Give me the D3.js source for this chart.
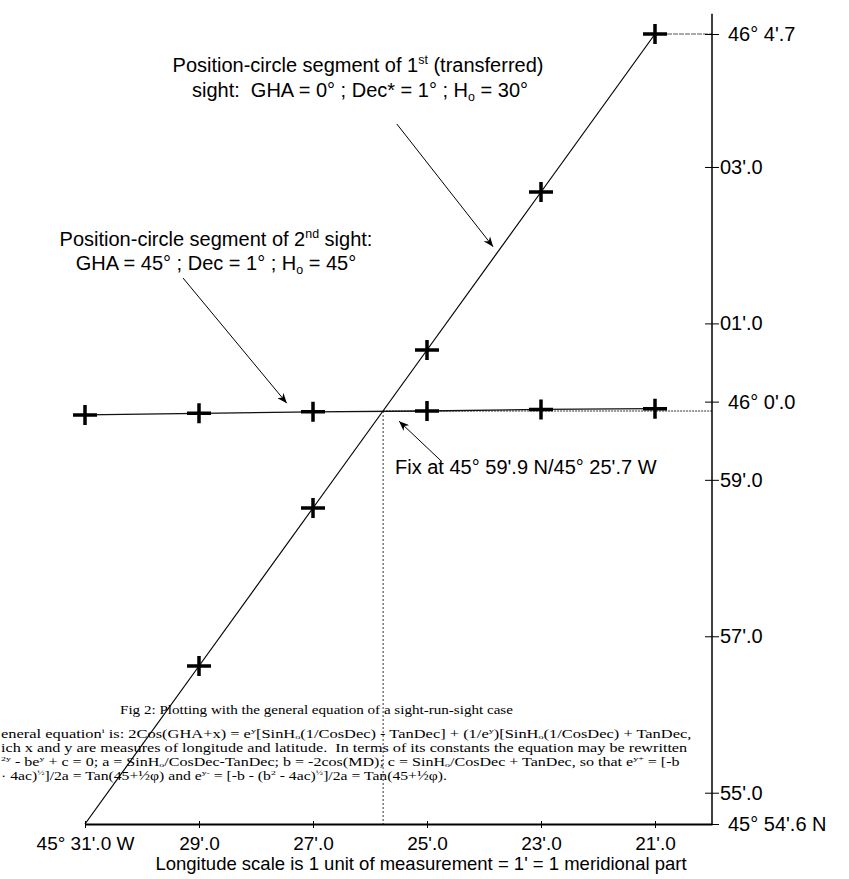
<!DOCTYPE html>
<html>
<head>
<meta charset="utf-8">
<script src="https://cdn.jsdelivr.net/npm/d3@7"></script>
<style>
  body { margin: 0; background: #fff; }
  svg text { font-family: Arial, "Liberation Sans", sans-serif; fill: #000; }
</style>
</head>
<body>
<div id="wrapper"></div>
<script>
// longitude (minutes past 45 deg W) and latitude (minutes past 45 deg N)
const lonTicks = [31, 29, 27, 25, 23, 21];
const lonLabels = ["45\u00B0 31'.0 W", "29'.0", "27'.0", "25'.0", "23'.0", "21'.0"];
const latTicks = [64.7, 63, 61, 60, 59, 57, 55, 54.6];
const latLabels = ["46\u00B0 4'.7", "03'.0", "01'.0", "46\u00B0 0'.0", "59'.0", "57'.0", "55'.0", "45\u00B0 54'.6 N"];

// 1st (transferred) sight - the steep line, first point has no cross
const sight1Lon = [31, 29, 27, 25, 23, 21];
const sight1Lat = [54.6, 56.62, 58.64, 60.66, 62.68, 64.7];
// 2nd sight - the almost flat line
const sight2Lon = [31, 29, 27, 25, 23, 21];
const sight2Lat = [59.83, 59.85, 59.87, 59.88, 59.9, 59.91];
// the fix
const fixLon = 25.77, fixLat = 59.88;

// arrows of the notes, [lon, lat] of tail and head
const arrowTails = [[25.53, 63.55], [29.28, 61.58], [24.75, 59.24]];
const arrowHeads = [[23.84, 61.98], [27.46, 59.98], [25.49, 59.75]];

const width = 849, height = 879;
const svg = d3.select("#wrapper").append("svg")
    .attr("width", width)
    .attr("height", height);

const x = d3.scaleLinear().domain([31, 20]).range([85, 712]);
const y = d3.scaleLinear().domain([54.6, 64.7]).range([824, 34]);

// helper for text with super / subscripts
function rich(sel, parts, size, subShift = 0.22) {
    let shift = 0;
    parts.forEach(p => {
        const str = typeof p === "string" ? p : p[0];
        const kind = typeof p === "string" ? null : p[1];
        const target = kind === "sup" ? -size * 0.4 : kind === "sub" ? size * subShift : 0;
        sel.append("tspan")
            .attr("dy", target - shift)
            .attr("font-size", kind ? size * 0.62 : size)
            .text(str);
        shift = target;
    });
}

// ---- page text under the plot (scanned paragraph), serif
const caption = "Fig 2: Plotting with the general equation of a sight-run-sight case";
const para = [
    ["eneral equation", ["i", "sup"], " is: 2Cos(GHA+x) = e", ["y", "sup"], "[SinH", ["o", "sub"], "(1/CosDec) - TanDec] + (1/e", ["y", "sup"], ")[SinH", ["o", "sub"], "(1/CosDec) + TanDec,"],
    ["ich x and y are measures of longitude and latitude.\u00A0 In terms of its constants the equation may be rewritten"],
    [["2y", "sup"], " - be", ["y", "sup"], " + c = 0; a = SinH", ["o", "sub"], "/CosDec-TanDec; b = -2cos(MD); c = SinH", ["o", "sub"], "/CosDec + TanDec, so that e", ["y+", "sup"], " = [-b"],
    ["\u00B7 4ac)", ["\u00BD", "sup"], "]/2a = Tan(45+\u00BD\u03C6) and e", ["y-", "sup"], " = [-b - (b", ["2", "sup"], " - 4ac)", ["\u00BD", "sup"], "]/2a = Tan(45+\u00BD\u03C6)."]
];
const paraEnds = [692, 688, 680, 447];

function fitText(parts, x0, x1, baseline, size) {
    const t = svg.append("text")
        .attr("x", 0).attr("y", 0)
        .style("font-family", "'Liberation Serif', 'Times New Roman', serif")
        .attr("font-size", size);
    rich(t, parts, size, 0.1);
    const w = t.node().getComputedTextLength();
    t.attr("transform", `translate(${x0},${baseline}) scale(${(x1 - x0) / w},1)`);
}
fitText([caption], 120, 513, 714, 13);
para.forEach((p, i) => fitText(p, 1, paraEnds[i], 738 + i * 14, 11.5));

// ---- guides
svg.append("line")
    .attr("x1", x(fixLon)).attr("x2", x(fixLon))
    .attr("y1", y(fixLat)).attr("y2", y(54.6))
    .attr("stroke", "#333").attr("stroke-width", 1).attr("stroke-dasharray", "2,2");
svg.append("line")
    .attr("x1", x(fixLon)).attr("x2", x(20))
    .attr("y1", y(fixLat)).attr("y2", y(fixLat))
    .attr("stroke", "#333").attr("stroke-width", 1).attr("stroke-dasharray", "2,1");
svg.append("line")
    .attr("x1", x(21)).attr("x2", x(20))
    .attr("y1", y(64.7)).attr("y2", y(64.7))
    .attr("stroke", "#555").attr("stroke-width", 1).attr("stroke-dasharray", "5,1");

// ---- axes
const xAxis = d3.axisBottom(x)
    .tickValues(lonTicks)
    .tickFormat((d, i) => lonLabels[i])
    .tickSizeInner(4)
    .tickSizeOuter(0)
    .tickPadding(9);
const gx = svg.append("g")
    .attr("transform", `translate(0,${y(54.6)})`)
    .call(xAxis)
    .attr("font-family", "Arial, 'Liberation Sans', sans-serif")
    .attr("font-size", 19);
gx.select(".domain").attr("stroke-width", 2);
gx.selectAll(".tick line").attr("y1", -3);

const yAxis = d3.axisRight(y)
    .tickValues(latTicks)
    .tickFormat((d, i) => latLabels[i])
    .tickSize(7);
const gy = svg.append("g")
    .attr("transform", `translate(${x(20)},0)`)
    .call(yAxis)
    .attr("font-family", "Arial, 'Liberation Sans', sans-serif")
    .attr("font-size", 20);
gy.select(".domain").remove();
gy.selectAll(".tick line").attr("x1", -7);
gy.selectAll(".tick text").attr("x", (d, i) => latLabels[i].includes("\u00B0") ? 16 : 8);
gy.append("line")
    .attr("y1", y(54.6)).attr("y2", y(64.96))
    .attr("stroke", "#000").attr("stroke-width", 1.5);

// ---- position lines
const line = d3.line().x(d => x(d[0])).y(d => y(d[1]));
svg.append("path")
    .attr("d", line(d3.zip(sight2Lon, sight2Lat)))
    .attr("fill", "none").attr("stroke", "#111").attr("stroke-width", 1.3);
svg.append("path")
    .attr("d", line(d3.zip(sight1Lon, sight1Lat)))
    .attr("fill", "none").attr("stroke", "#000").attr("stroke-width", 1.2);

const cross = "M-12,0H12M0,-10V10";
svg.selectAll(".c1")
    .data(d3.zip(sight1Lon, sight1Lat).slice(1))
    .join("path")
    .attr("transform", d => `translate(${x(d[0])},${y(d[1])})`)
    .attr("d", cross).attr("stroke", "#000").attr("stroke-width", 3.5);
svg.selectAll(".c2")
    .data(d3.zip(sight2Lon, sight2Lat))
    .join("path")
    .attr("transform", d => `translate(${x(d[0])},${y(d[1])})`)
    .attr("d", cross).attr("stroke", "#000").attr("stroke-width", 3.5);

// ---- notes
svg.append("defs").append("marker")
    .attr("id", "head")
    .attr("viewBox", "0 0 10 8")
    .attr("refX", 10).attr("refY", 4)
    .attr("markerWidth", 10).attr("markerHeight", 8)
    .attr("markerUnits", "userSpaceOnUse")
    .attr("orient", "auto")
    .append("path").attr("d", "M0,0L10,4L0,8L3,4Z").attr("fill", "#000");

arrowTails.forEach((t, i) => {
    svg.append("line")
        .attr("x1", x(t[0])).attr("y1", y(t[1]))
        .attr("x2", x(arrowHeads[i][0])).attr("y2", y(arrowHeads[i][1]))
        .attr("stroke", "#000").attr("stroke-width", 1)
        .attr("marker-end", "url(#head)");
});

function note(parts, cx, baseline) {
    const t = svg.append("text")
        .attr("x", cx).attr("y", baseline)
        .attr("text-anchor", "middle")
        .attr("font-size", 20);
    rich(t, parts, 20);
}
note(["Position-circle segment of 1", ["st", "sup"], " (transferred)"], 358, 72);
note(["sight:\u00A0 GHA = 0\u00B0 ; Dec* = 1\u00B0 ; H", ["o", "sub"], " = 30\u00B0"], 360, 97);
note(["Position-circle segment of 2", ["nd", "sup"], " sight:"], 216, 246);
note(["GHA = 45\u00B0 ; Dec = 1\u00B0 ; H", ["o", "sub"], " = 45\u00B0"], 216, 270);

svg.append("text")
    .attr("x", 395).attr("y", 474)
    .attr("font-size", 20)
    .text("Fix at 45\u00B0 59'.9 N/45\u00B0 25'.7 W");

svg.append("text")
    .attr("x", 421).attr("y", 870)
    .attr("text-anchor", "middle")
    .attr("font-size", 18.5)
    .text("Longitude scale is 1 unit of measurement = 1' = 1 meridional part");
</script>
</body>
</html>
